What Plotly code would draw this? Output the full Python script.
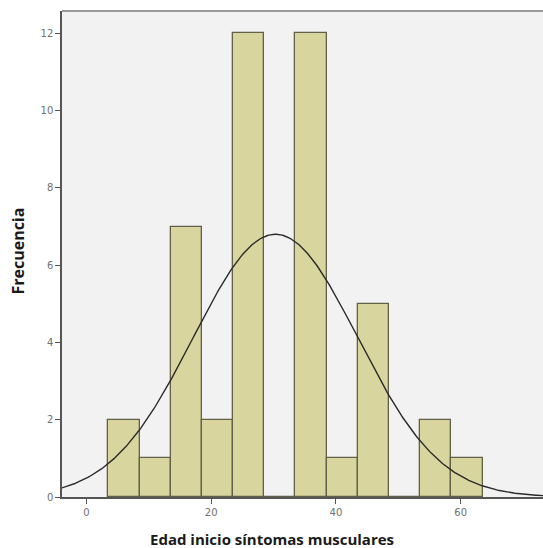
import numpy as np
import plotly.graph_objects as go

bin_mids = [6, 11, 16, 21, 26, 31, 36, 41, 46, 51, 56, 61]
counts = [2, 1, 7, 2, 12, 0, 12, 1, 5, 0, 2, 1]
bin_width = 5
x_ticks = [0, 20, 40, 60]
y_ticks = [0, 2, 4, 6, 8, 10, 12]
curve_mean = 30.3
curve_sd = 13.2

n = sum(counts)
xs = np.linspace(-4, 74, 400)
ys = n * bin_width / (curve_sd * np.sqrt(2 * np.pi)) * np.exp(-0.5 * ((xs - curve_mean) / curve_sd) ** 2)

fig = go.Figure()
fig.add_trace(go.Bar(x=bin_mids, y=counts, width=bin_width,
                     marker=dict(color="#d8d69e", line=dict(color="#626048", width=1.3)),
                     showlegend=False))
fig.add_trace(go.Scatter(x=xs, y=ys, mode="lines", line=dict(color="#2a2a2a", width=1.4),
                         showlegend=False))

tick_font = dict(family="DejaVu Sans", size=10, color="#707070")

fig.update_layout(
    width=543, height=548,
    margin=dict(l=62, r=0, t=11, b=51),
    paper_bgcolor="white", plot_bgcolor="#f2f2f2",
    bargap=0,
    xaxis=dict(range=[-3.93, 73.2], tickvals=x_ticks, ticks="outside", ticklen=5, tickcolor="#555",
               showgrid=False, zeroline=False, showline=True, linecolor="#555", linewidth=1.5,
               tickfont=tick_font),
    yaxis=dict(range=[0, 12.58], tickvals=y_ticks, ticks="outside", ticklen=5, tickcolor="#555",
               showgrid=False, zeroline=False, showline=True, linecolor="#555", linewidth=1.5,
               tickfont=tick_font),
    shapes=[dict(type="line", xref="paper", yref="paper", x0=0, x1=1, y0=1, y1=1,
                 line=dict(color="#999", width=2))],
    annotations=[
        dict(text="<b>Edad inicio síntomas musculares</b>", xref="paper", yref="paper",
             x=0.437, y=0, yshift=-42, xanchor="center", yanchor="middle",
             showarrow=False, font=dict(family="Open Sans", size=15, color="#1a1a1a")),
        dict(text="<b>Frecuencia</b>", xref="paper", yref="paper",
             x=0, xshift=-44, y=0.505, xanchor="center", yanchor="middle", textangle=-90,
             showarrow=False, font=dict(family="Open Sans", size=16, color="#1a1a1a")),
    ],
)
fig.write_html("out.html", config={"displayModeBar": False},
               post_script="document.body.style.margin='0';document.body.style.overflow='hidden';")
